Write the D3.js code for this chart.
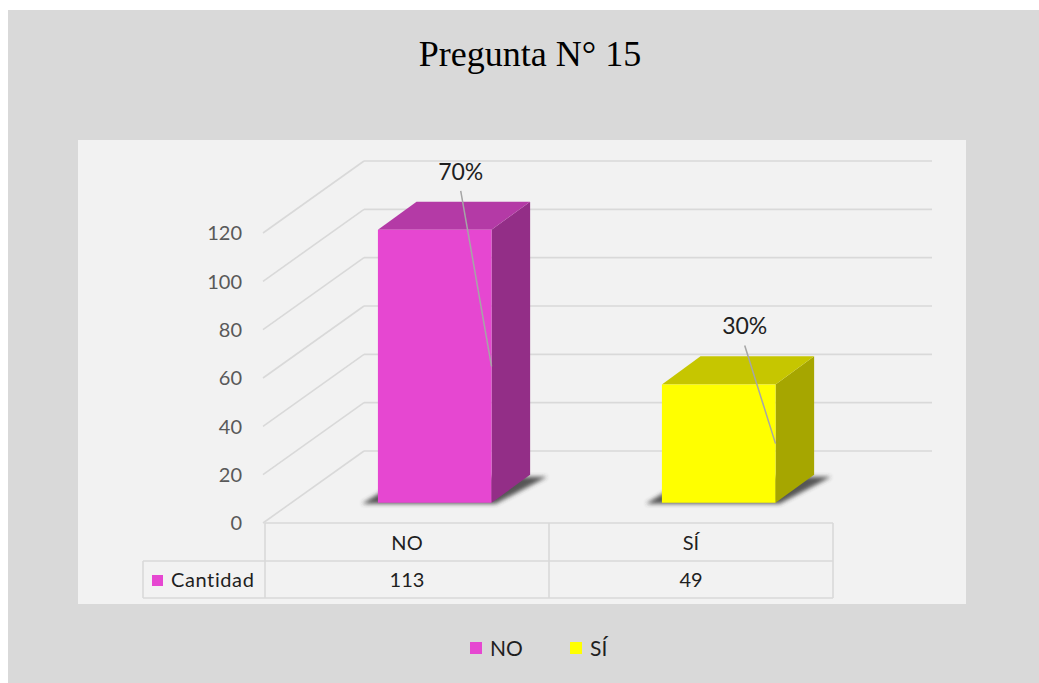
<!DOCTYPE html>
<html>
<head>
<meta charset="utf-8">
<script src="https://cdn.jsdelivr.net/npm/d3@7"></script>
<style>
  html, body { margin: 0; padding: 0; background: #ffffff; }
  svg { display: block; }
</style>
</head>
<body>
<svg id="chart" width="1039" height="683"></svg>
<script>
// Survey answers for question 15
const title = "Pregunta N° 15";
const categories = ["NO", "SÍ"];
const seriesName = "Cantidad";
const values = [113, 49];
const yTicks = [0, 20, 40, 60, 80, 100, 120];

const palette = {
  NO: { front: "#e647d1", top: "#b43aa6", side: "#932e87" },
  "SÍ": { front: "#ffff00", top: "#c6c600", side: "#a6a600" }
};

const svg = d3.select("#chart");
const sans = "Lato, 'Open Sans', sans-serif";

// outer frame and plot panel
svg.append("rect").attr("x", 8).attr("y", 10).attr("width", 1031).attr("height", 673).attr("fill", "#d9d9d9");
svg.append("rect").attr("x", 78).attr("y", 140).attr("width", 888).attr("height", 464).attr("fill", "#f2f2f2");

svg.append("text")
  .attr("x", 530).attr("y", 66)
  .attr("text-anchor", "middle")
  .attr("font-family", "'Liberation Serif', 'Times New Roman', serif")
  .attr("font-size", 36)
  .attr("fill", "#000")
  .text(title);

// scales: category bands across the front edge, value axis on the front plane
const x = d3.scaleBand().domain(categories).range([265, 833]);
const y = d3.scaleLinear().domain([0, 120]).range([523, 233]);

// oblique depth projection (depth fraction 0 = front, 1 = back wall)
const depthDX = 99, depthDY = -72;
const proj = (px, py, d) => [px + depthDX * d, py + depthDY * d];

const gridColor = "#d9d9d9";
const grid = svg.append("g");

// side wall and back wall gridlines
yTicks.forEach(v => {
  const a = proj(263, y(v), 0);
  const b = proj(265, y(v), 1);
  grid.append("line")
    .attr("x1", a[0]).attr("y1", a[1]).attr("x2", b[0]).attr("y2", b[1])
    .attr("stroke", gridColor).attr("stroke-width", 1.6);
  const c = proj(833, y(v), 1);
  grid.append("line")
    .attr("x1", b[0]).attr("y1", b[1]).attr("x2", c[0]).attr("y2", c[1])
    .attr("stroke", gridColor).attr("stroke-width", 1.6);
});

// value axis labels on the front plane
svg.append("g").selectAll("text").data(yTicks).join("text")
  .attr("x", 242).attr("y", d => y(d))
  .attr("dy", "0.36em")
  .attr("text-anchor", "end")
  .attr("font-family", sans).attr("font-size", 20)
  .attr("fill", "#595959")
  .text(d => d);

// soft shadow under each column
const defs = svg.append("defs");
defs.append("filter").attr("id", "shadowBlur")
  .attr("x", "-20%").attr("y", "-50%").attr("width", "140%").attr("height", "200%")
  .append("feGaussianBlur").attr("stdDeviation", 2.2);

const dFront = 0.28, dBack = 0.67;
const barW = x.bandwidth() * 0.4;
const total = d3.sum(values);
const pct = d3.format(".0%");

const bars = categories.map((c, i) => {
  const cx = x(c) + x.bandwidth() / 2;
  const x0 = cx - barW / 2, x1 = cx + barW / 2;
  return {
    c, v: values[i],
    fl0: proj(x0, y(0), dFront), fr0: proj(x1, y(0), dFront),
    br0: proj(x1, y(0), dBack), bl0: proj(x0, y(0), dBack),
    fl1: proj(x0, y(values[i]), dFront), fr1: proj(x1, y(values[i]), dFront),
    br1: proj(x1, y(values[i]), dBack), bl1: proj(x0, y(values[i]), dBack)
  };
});

const pts = arr => arr.map(p => p.join(",")).join(" ");
const barG = svg.append("g");

bars.forEach(b => {
  const col = palette[b.c];
  barG.append("polygon")
    .attr("points", pts([
      [b.fl0[0] - 16, b.fl0[1] + 1], [b.fr0[0] + 4, b.fr0[1] + 1],
      [b.br0[0] + 17, b.br0[1] + 2], [b.bl0[0] - 10, b.bl0[1] + 2]
    ]))
    .attr("fill", "#3a3a3a").attr("opacity", 0.85)
    .attr("filter", "url(#shadowBlur)");
  // right side
  barG.append("polygon").attr("points", pts([b.fr0, b.br0, b.br1, b.fr1])).attr("fill", col.side);
  // top
  barG.append("polygon").attr("points", pts([b.fl1, b.fr1, b.br1, b.bl1])).attr("fill", col.top);
  // front
  barG.append("polygon").attr("points", pts([b.fl0, b.fr0, b.fr1, b.fl1])).attr("fill", col.front);
});

// percentage labels with leader lines
bars.forEach(b => {
  const lx = (b.fl1[0] + b.fr1[0]) / 2 + 26;
  const ly = b.fl1[1] - 50;
  const ax = b.fr0[0];
  const ay = (b.fr0[1] + b.fr1[1]) / 2;
  svg.append("line")
    .attr("x1", lx).attr("y1", ly + 11).attr("x2", ax).attr("y2", ay)
    .attr("stroke", "#a6a6a6").attr("stroke-width", 1.5);
  svg.append("text")
    .attr("x", lx).attr("y", ly)
    .attr("text-anchor", "middle")
    .attr("font-family", sans).attr("font-size", 23)
    .attr("fill", "#1f1f1f")
    .text(pct(b.v / total));
});

// data table under the category axis
const table = svg.append("g");
const rowTop = 523, rowMid = 561, rowBot = 598, tableLeft = 143;
const tl = (x1, y1, x2, y2) => table.append("line")
  .attr("x1", x1).attr("y1", y1).attr("x2", x2).attr("y2", y2)
  .attr("stroke", gridColor).attr("stroke-width", 1.6);
tl(265, rowTop, 833, rowTop);
tl(tableLeft, rowMid, 833, rowMid);
tl(tableLeft, rowBot, 833, rowBot);
tl(tableLeft, rowMid, tableLeft, rowBot);
tl(265, rowTop, 265, rowBot);
categories.forEach(c => tl(x(c) + x.bandwidth(), rowTop, x(c) + x.bandwidth(), rowBot));

table.selectAll("text.cat").data(categories).join("text")
  .attr("class", "cat")
  .attr("x", d => x(d) + x.bandwidth() / 2).attr("y", (rowTop + rowMid) / 2 + 1)
  .attr("dy", "0.36em").attr("text-anchor", "middle")
  .attr("font-family", sans).attr("font-size", 20).attr("fill", "#1f1f1f")
  .text(d => d);

table.selectAll("text.val").data(values).join("text")
  .attr("class", "val")
  .attr("x", (d, i) => x(categories[i]) + x.bandwidth() / 2).attr("y", (rowMid + rowBot) / 2)
  .attr("dy", "0.36em").attr("text-anchor", "middle")
  .attr("font-family", sans).attr("font-size", 20).attr("fill", "#1f1f1f")
  .text(d => d);

table.append("rect").attr("x", 152).attr("y", 575).attr("width", 11).attr("height", 11)
  .attr("fill", palette.NO.front);
table.append("text")
  .attr("x", 171).attr("y", (rowMid + rowBot) / 2).attr("dy", "0.36em")
  .attr("font-family", sans).attr("font-size", 20).attr("fill", "#1f1f1f")
  .attr("letter-spacing", 0.6)
  .text(seriesName);

// legend
const legend = svg.append("g");
const legendX = [470, 570];
categories.forEach((c, i) => {
  legend.append("rect").attr("x", legendX[i]).attr("y", 642).attr("width", 12).attr("height", 12)
    .attr("fill", palette[c].front);
  legend.append("text")
    .attr("x", legendX[i] + 20).attr("y", 648).attr("dy", "0.36em")
    .attr("font-family", sans).attr("font-size", 21).attr("fill", "#1f1f1f")
    .text(c);
});
</script>
</body>
</html>
